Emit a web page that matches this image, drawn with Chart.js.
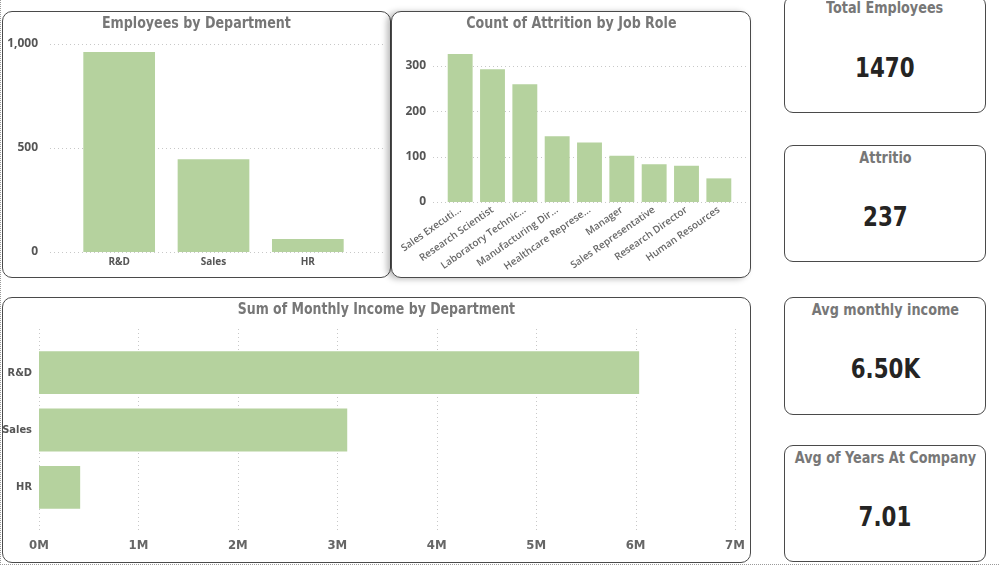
<!DOCTYPE html>
<html>
<head>
<meta charset="utf-8">
<script src="https://cdn.jsdelivr.net/npm/chart.js@4"></script>
<style>
  html, body { margin: 0; padding: 0; background: #fff; }
  body { width: 1000px; height: 567px; position: relative; overflow: hidden;
         font-family: 'DejaVu Sans Condensed', 'DejaVu Sans', sans-serif; }
  .frame { position: absolute; left: 0; top: 0; width: 999px; height: 565px;
           border-left: 1px dotted #9a9a9a; border-bottom: 1px dotted #9a9a9a; box-sizing: border-box; }
  .panel { position: absolute; box-sizing: border-box; border: 1px solid #4a4a4a;
           border-radius: 10px; background: #fff; overflow: hidden; }
  .panel canvas { display: block; position: absolute; left: 0; top: 0; }
  .shadow { box-shadow: -4px 1px 6px rgba(0,0,0,0.28); }
  .ttl { position: absolute; left: 0; right: 0; top: 0; text-align: center; white-space: nowrap;
         color: #777; font-weight: bold; font-size: 16px; line-height: 22px; z-index: 2; }
  .ttl span { display: inline-block; transform: scaleX(0.88); }
  .kpi { position: absolute; left: 784px; width: 202px; box-sizing: border-box;
         border: 1px solid #4a4a4a; border-radius: 9px; background: #fff; text-align: center; }
  .kpi .t { position: absolute; left: 0; right: 0; top: 2px; font-size: 15px; font-weight: bold;
            color: #777; line-height: 20px; white-space: nowrap; }
  .kpi .v { position: absolute; left: 0; right: 0; top: 55px; font-size: 27px; font-weight: bold;
            color: #252423; line-height: 32px; white-space: nowrap; }
  .kpi span { display: inline-block; }
  .kpi .t span { transform: scaleX(0.95); }
  .kpi .v span { transform: scaleX(0.88); }
</style>
</head>
<body>
<div class="frame"></div>
<div class="panel" style="left:2px;top:11px;width:389px;height:267px;">
  <div class="ttl"><span>Employees by Department</span></div>
  <canvas id="emp" width="387" height="265"></canvas>
</div>
<div class="panel shadow" style="left:391px;top:11px;width:360px;height:267px;">
  <div class="ttl"><span>Count of Attrition by Job Role</span></div>
  <canvas id="attr" width="358" height="265"></canvas>
</div>
<div class="panel" style="left:2px;top:297px;width:749px;height:266px;">
  <div class="ttl"><span style="transform:scaleX(0.87)">Sum of Monthly Income by Department</span></div>
  <canvas id="income" width="747" height="264"></canvas>
</div>
<div id="kpis"></div>

<script>
// data
const deptLabels = ['R&D', 'Sales', 'HR'];
const deptEmployees = [961, 446, 63];
const empTicks = [0, 500, 1000];

const roleLabels = ['Sales Executi...', 'Research Scientist', 'Laboratory Technic...', 'Manufacturing Dir...',
  'Healthcare Represe...', 'Manager', 'Sales Representative', 'Research Director', 'Human Resources'];
const roleAttrition = [326, 292, 259, 145, 131, 102, 83, 80, 52];
const attrTicks = [0, 100, 200, 300];

const incomeLabels = ['R&D', 'Sales', 'HR'];
const incomeSum = [6036000, 3100000, 414000];
const incomeTicks = [0, 1000000, 2000000, 3000000, 4000000, 5000000, 6000000, 7000000];

const kpiTitles = ['Total Employees', 'Attritio', 'Avg monthly income', 'Avg of Years At Company'];
const kpiValues = ['1470', '237', '6.50K', '7.01'];
const kpiTops = [-4, 145, 297, 445];
const kpiHeights = [117, 117, 118, 117];

const BAR = '#b5d29e';
const DIN = "'DejaVu Sans Condensed', 'DejaVu Sans', sans-serif";
const UI = "'Open Sans', 'Noto Sans', sans-serif";

Chart.defaults.animation = false;
Chart.defaults.font.family = UI;

// KPI cards
const kpiBox = document.getElementById('kpis');
kpiTitles.forEach((t, i) => {
  const d = document.createElement('div');
  d.className = 'kpi';
  d.style.top = kpiTops[i] + 'px';
  d.style.height = kpiHeights[i] + 'px';
  d.innerHTML = '<div class="t"><span></span></div><div class="v"><span></span></div>';
  d.querySelector('.t span').textContent = t;
  d.querySelector('.v span').textContent = kpiValues[i];
  if (i === 0) d.querySelector('.t').style.top = '1px';
  kpiBox.appendChild(d);
});

// dotted gridlines that reach past the plot area, like Power BI
const dotGrid = {
  id: 'dotGrid',
  beforeDatasetsDraw(chart, args, opts) {
    const ctx = chart.ctx, a = chart.chartArea;
    const scale = chart.scales[opts.axis];
    ctx.save();
    ctx.strokeStyle = '#c8c8c8';
    ctx.lineWidth = 1;
    ctx.setLineDash([1, 3]);
    scale.ticks.forEach(t => {
      const p = Math.round(scale.getPixelForValue(t.value)) + 0.5;
      ctx.beginPath();
      if (opts.axis === 'y') {
        ctx.moveTo(a.left - opts.ext[0], p);
        ctx.lineTo(a.right + opts.ext[1], p);
      } else {
        ctx.moveTo(p, a.top - opts.ext[0]);
        ctx.lineTo(p, a.bottom + opts.ext[1]);
      }
      ctx.stroke();
    });
    ctx.restore();
  }
};

// fixed axis size; drop the extra edge padding Chart.js adds for big tick padding
function fixV(w) {
  return s => { s.width = w; s.paddingTop = 7; s.paddingBottom = 7; };
}
function fixH(h) {
  return s => { s.height = h; s.paddingLeft = 9; s.paddingRight = 9; };
}

// Employees by Department
new Chart(document.getElementById('emp'), {
  type: 'bar',
  data: { labels: deptLabels, datasets: [{ data: deptEmployees, backgroundColor: BAR,
    categoryPercentage: 1, barPercentage: 0.76 }] },
  options: {
    responsive: false,
    layout: { padding: { left: 0, right: 35, top: 32, bottom: 0 } },
    plugins: { legend: { display: false }, tooltip: { enabled: false },
      dotGrid: { axis: 'y', ext: [22, 28] } },
    scales: {
      x: { grid: { display: false, drawTicks: false }, border: { display: false },
        ticks: { color: '#555', padding: 4, font: { size: 10, weight: 'bold' } },
        afterFit: s => { s.height = 25; } },
      y: { min: 0, max: 1000, grid: { display: false, drawTicks: false }, border: { display: false },
        afterBuildTicks: s => { s.ticks = empTicks.map(v => ({ value: v })); },
        ticks: { color: '#555', padding: 34, font: { size: 12, weight: 'bold' } },
        afterFit: fixV(69) }
    }
  },
  plugins: [dotGrid]
});

// Count of Attrition by Job Role
new Chart(document.getElementById('attr'), {
  type: 'bar',
  data: { labels: roleLabels, datasets: [{ data: roleAttrition, backgroundColor: BAR,
    categoryPercentage: 1, barPercentage: 0.77 }] },
  options: {
    responsive: false,
    layout: { padding: { left: 0, right: 15, top: 31, bottom: 0 } },
    plugins: { legend: { display: false }, tooltip: { enabled: false },
      dotGrid: { axis: 'y', ext: [11, 14] } },
    scales: {
      x: { grid: { display: false, drawTicks: false }, border: { display: false },
        ticks: { color: '#666', padding: 2, minRotation: 35, maxRotation: 35, autoSkip: false,
          font: { size: 10, weight: '600' } },
        afterFit: s => { s.height = 75; } },
      y: { min: 0, max: 350, grid: { display: false, drawTicks: false }, border: { display: false },
        afterBuildTicks: s => { s.ticks = attrTicks.map(v => ({ value: v })); },
        ticks: { color: '#555', padding: 18, font: { size: 12, weight: 'bold' } },
        afterFit: fixV(52) }
    }
  },
  plugins: [dotGrid]
});

// Sum of Monthly Income by Department
new Chart(document.getElementById('income'), {
  type: 'bar',
  data: { labels: incomeLabels, datasets: [{ data: incomeSum, backgroundColor: BAR,
    categoryPercentage: 1, barPercentage: 0.746 }] },
  options: {
    indexAxis: 'y',
    responsive: false,
    layout: { padding: { left: 0, right: 15, top: 46, bottom: 0 } },
    plugins: { legend: { display: false }, tooltip: { enabled: false },
      dotGrid: { axis: 'x', ext: [15, 14] } },
    scales: {
      x: { min: 0, max: 7000000, grid: { display: false, drawTicks: false }, border: { display: false },
        afterBuildTicks: s => { s.ticks = incomeTicks.map(v => ({ value: v })); },
        ticks: { color: '#666', padding: 22, font: { family: DIN, size: 13, weight: 'bold' },
          callback: v => (v / 1000000) + 'M' },
        afterFit: fixH(46) },
      y: { grid: { display: false, drawTicks: false }, border: { display: false },
        ticks: { color: '#555', padding: 7, font: { family: DIN, size: 11, weight: 'bold' } },
        afterFit: s => { s.width = 36; } }
    }
  },
  plugins: [dotGrid]
});
</script>
</body>
</html>
